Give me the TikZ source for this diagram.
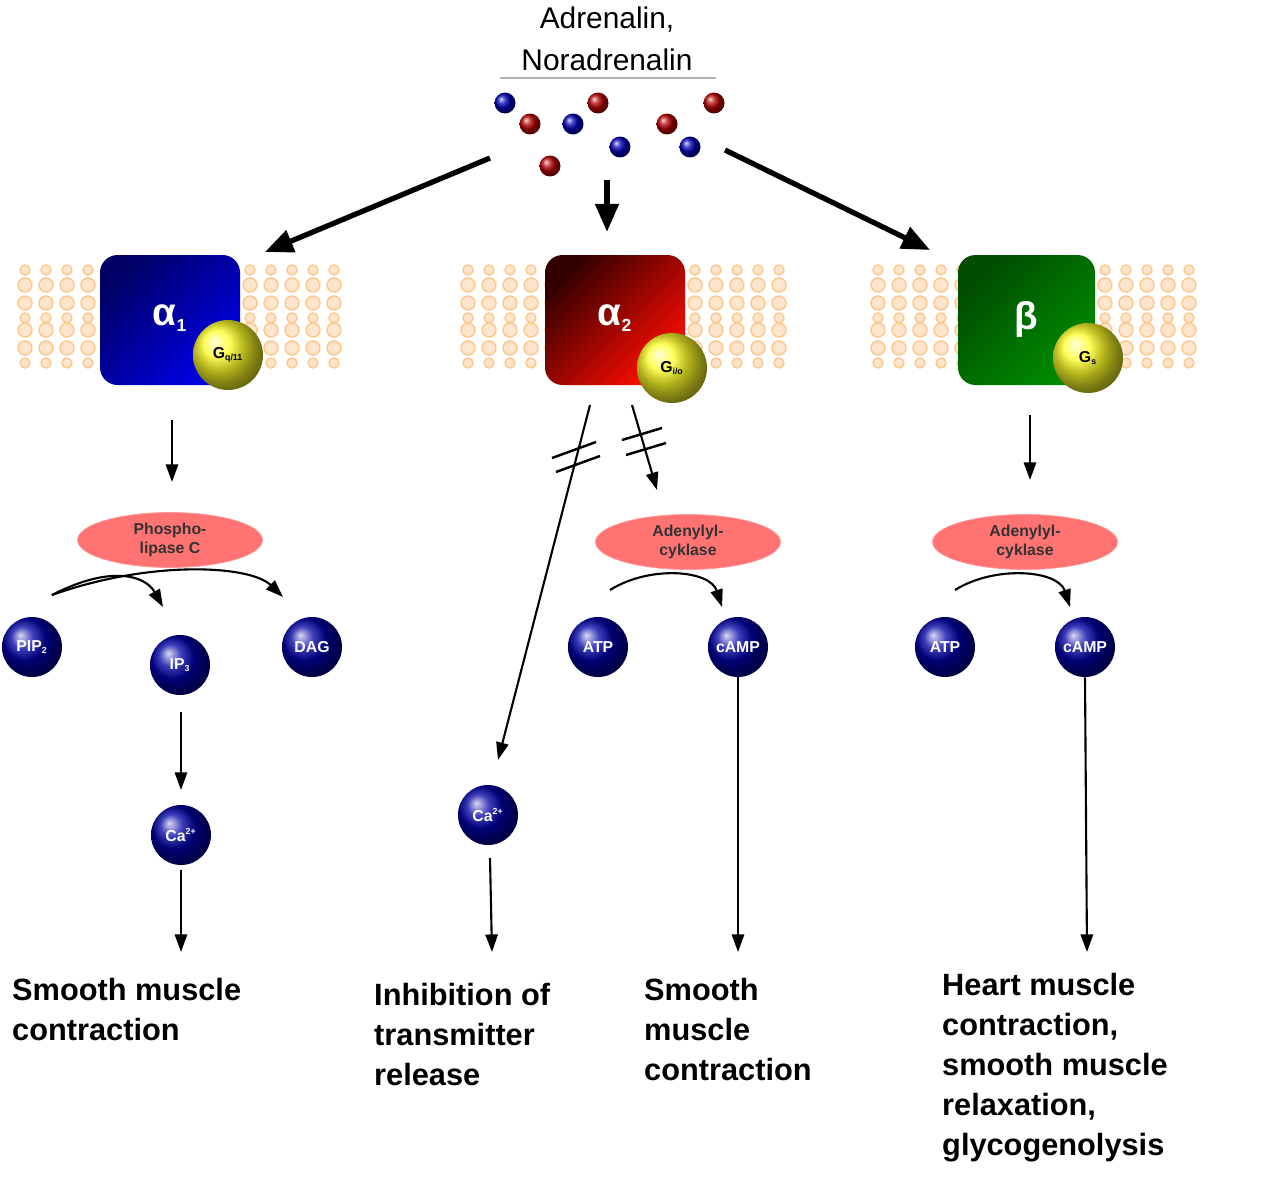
\documentclass[tikz,border=0pt]{standalone}
\usepackage{fontspec}
\setmainfont{Liberation Sans}
\usetikzlibrary{arrows.meta,shapes.geometric}
\begin{document}
\begin{tikzpicture}[x=0.02cm,y=-0.02cm,
  arr/.style={-{Triangle[length=10pt,width=7pt]},line width=1.2pt},
  big/.style={-{Triangle[length=16pt,width=13pt]},line width=3pt},
  mol/.style={circle,inner sep=0pt,minimum size=0.42cm,ball color=#1},
  ball/.style={circle,inner sep=0pt,minimum size=1.2cm,ball color=blue!65!black,text=white,font=\bfseries\small},
  gp/.style={circle,inner sep=0pt,minimum size=1.4cm,ball color=yellow!85!white,font=\bfseries\small},
  enz/.style={ellipse,minimum width=3.7cm,minimum height=1.1cm,inner sep=0pt,fill=red!55!white,draw=red!40,font=\bfseries\small,align=center,text=black!80,execute at begin node=\setlength{\baselineskip}{11pt}},
  res/.style={anchor=north west,align=left,font=\bfseries\fontsize{17.5}{22.8}\selectfont},
  rec/.style={text=white,font=\bfseries\fontsize{22}{24}\selectfont},
  lip/.style={draw=orange!45,fill=orange!20,line width=0.8pt}]
\useasboundingbox (0,0) rectangle (1265,1200);
% title
\node (t1) at (607,20) {\fontsize{17}{20}\selectfont Adrenalin,};
\node (t2) at (607,60) {\fontsize{17}{20}\selectfont Noradrenalin};
\draw[gray!60,line width=0.8pt] (500,78) -- (716,78);
% molecules
\foreach \p [count=\i] in {(505,103),(573,124),(620,147),(690,147)} \node[mol=blue!70!black] (mb\i) at \p {};
\foreach \p [count=\i] in {(530,124),(598,103),(550,166),(667,124),(714,103)} \node[mol=red!70!black] (mr\i) at \p {};
\coordinate (s1) at (490,158); \coordinate (s2) at (607,180); \coordinate (s3) at (725,150);
% membranes
\foreach \xa/\xb in {15/100,240/325,458/545,685/770,868/958,1095/1185}{
  \pgfmathsetmacro{\n}{int((\xb-\xa)/21)}
  \foreach \k in {0,...,\n}{
    \pgfmathsetmacro{\cx}{\xa+10+\k*21}
    \foreach \cy in {285,303,330,348}{ \draw[lip] (\cx,\cy) circle (0.14cm); }
    \foreach \cy in {270,318,363}{ \draw[lip] (\cx,\cy) circle (0.1cm); }
  }}
% receptors
\shade[rounded corners=0.35cm,left color=blue!40!black,right color=blue!90!black,shading angle=45] (100,255) rectangle (240,385);
\node[rec] (a1) at (170,318) {α\textsubscript{\normalsize 1}};
\shade[rounded corners=0.35cm,left color=black!80!red,right color=red!90!orange,shading angle=45] (545,255) rectangle (685,385);
\node[rec] (a2) at (615,318) {α\textsubscript{\normalsize 2}};
\shade[rounded corners=0.35cm,left color=black!70!green,right color=green!55!black,shading angle=45] (958,255) rectangle (1095,385);
\node[rec] (b) at (1026,320) {β};
\node[gp] (g1) at (228,355) {G\textsubscript{\tiny q/11}};
\node[gp] (g2) at (672,368) {G\textsubscript{\tiny i/o}};
\node[gp] (g3) at (1088,358) {G\textsubscript{\tiny s}};
\coordinate (r1) at (265,252); \coordinate (r2) at (607,232); \coordinate (r3) at (930,250);
\draw[big] (s1) -- (r1); \draw[big] (s2) -- (r2); \draw[big] (s3) -- (r3);
% enzymes
\node[enz] (plc) at (170,540) {Phospho-\\lipase C};
\node[enz] (ac1) at (688,542) {Adenylyl-\\cyklase};
\node[enz] (ac2) at (1025,542) {Adenylyl-\\cyklase};
% balls
\node[ball] (pip) at (32,647) {PIP\textsubscript{\tiny 2}};
\node[ball] (ip3) at (180,665) {IP\textsubscript{\tiny 3}};
\node[ball] (dag) at (312,647) {DAG};
\node[ball] (ca1) at (181,835) {Ca\textsuperscript{\tiny 2+}};
\node[ball] (atp1) at (598,647) {ATP};
\node[ball] (camp1) at (738,647) {cAMP};
\node[ball] (ca2) at (488,815) {Ca\textsuperscript{\tiny 2+}};
\node[ball] (atp2) at (945,647) {ATP};
\node[ball] (camp2) at (1085,647) {cAMP};
% outputs
\node[res] (o1) at (6,972) {Smooth muscle\\contraction};
\node[res] (o2) at (368,977) {Inhibition of\\transmitter\\release};
\node[res] (o3) at (638,972) {Smooth\\muscle\\contraction};
\node[res] (o4) at (936,967) {Heart muscle\\contraction,\\smooth muscle\\relaxation,\\glycogenolysis};
% arrows alpha1
\coordinate (p1) at (172,420); \coordinate (p2) at (172,482);
\draw[arr] (p1) -- (p2);
\coordinate (q1) at (181,712); \coordinate (q2) at (181,790);
\draw[arr] (q1) -- (q2);
\coordinate (q3) at (181,870); \coordinate (q4) at (181,952);
\draw[arr] (q3) -- (q4);
\coordinate (c0) at (52,595); \coordinate (c1) at (163,607); \coordinate (c2) at (283,597);
\draw[arr] (c0) .. controls (110,565) and (145,575) .. (c1);
\draw[arr] (c0) .. controls (150,560) and (250,565) .. (c2);
% alpha2
\coordinate (d0) at (590,405); \coordinate (d1) at (498,760);
\draw[arr] (d0) -- (d1);
\draw[line width=1.4pt] (552,458) -- (596,442) (556,472) -- (600,456);
\coordinate (e0) at (632,405); \coordinate (e1) at (657,490);
\draw[arr] (e0) -- (e1);
\draw[line width=1.4pt] (622,440) -- (662,428) (626,455) -- (666,443);
\coordinate (f0) at (490,858); \coordinate (f1) at (492,952);
\draw[arr] (f0) -- (f1);
\coordinate (h1) at (738,952);
\draw[arr] (camp1.south) -- (h1);
\coordinate (k0) at (610,590); \coordinate (k1) at (722,607);
\draw[arr] (k0) .. controls (650,565) and (710,570) .. (k1);
% beta
\coordinate (m0) at (1030,415); \coordinate (m1) at (1030,480);
\draw[arr] (m0) -- (m1);
\coordinate (n1) at (1087,952);
\draw[arr] (camp2.south) -- (n1);
\coordinate (u0) at (955,590); \coordinate (u1) at (1070,607);
\draw[arr] (u0) .. controls (995,565) and (1058,570) .. (u1);
\end{tikzpicture}
\end{document}
